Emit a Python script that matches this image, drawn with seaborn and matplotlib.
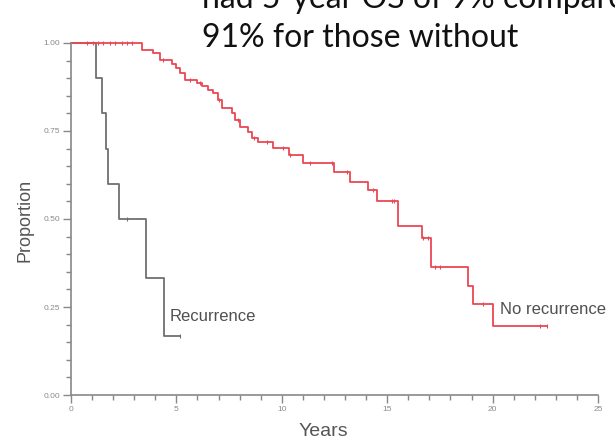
import numpy as np
import pandas as pd
import matplotlib
matplotlib.use("Agg")
import matplotlib.pyplot as plt
import seaborn as sns
from matplotlib.ticker import MultipleLocator, FormatStrFormatter

# ---------------- data ----------------
rec_times = [0.0, 1.17, 1.49, 1.66, 1.77, 2.28, 3.54, 4.43]
rec_surv = [1.0, 0.90, 0.80, 0.70, 0.60, 0.50, 0.333, 0.167]
rec_end = 5.17
rec_censor = [2.64, 5.17]

norec_times = [0.0, 3.37, 3.89, 4.22, 4.79, 4.98, 5.17, 5.41, 5.98, 6.21, 6.50,
               6.74, 6.97, 7.16, 7.62, 7.78, 8.02, 8.41, 8.57, 8.89, 9.60,
               10.34, 11.02, 12.48, 13.24, 14.09, 14.50, 15.51, 16.64, 17.08,
               18.85, 19.08, 20.03]
norec_surv = [1.0, 0.981, 0.972, 0.953, 0.940, 0.929, 0.915, 0.896, 0.886, 0.877,
              0.867, 0.858, 0.839, 0.815, 0.800, 0.781, 0.762, 0.748, 0.729,
              0.720, 0.701, 0.682, 0.660, 0.634, 0.606, 0.582, 0.552, 0.479,
              0.447, 0.364, 0.311, 0.259, 0.196]
norec_end = 22.57
norec_censor = [0.74, 1.04, 1.28, 1.52, 1.85, 2.09, 2.42, 2.66, 2.89, 4.36,
                5.65, 6.12, 7.00, 7.90, 8.70, 9.30, 10.07, 10.39, 11.34, 12.37,
                13.08, 14.33, 15.21, 15.32, 16.71, 16.94, 17.27, 17.50, 19.56,
                22.25, 22.57]

labels = ["Recurrence", "No recurrence"]
x_label = "Years"
y_label = "Proportion"
headline_1 = "had 5-year OS of 9% compared to those"
headline_2 = "91% for those without"

RED = "#ea4654"
GRAY = "#6f6f6f"

# ---------------- style ----------------
sns.set_style("ticks")
plt.rcParams["font.family"] = ["Liberation Sans", "DejaVu Sans"]

fig = plt.figure(figsize=(6.15, 4.41), dpi=100)
ax = fig.add_axes([71 / 615, 46 / 441, 527 / 615, 352 / 441])


def step_frame(times, surv, end):
    return pd.DataFrame({"t": list(times) + [end], "s": list(surv) + [surv[-1]]})


def censor_frame(times, surv, cens):
    idx = np.searchsorted(np.asarray(times), np.asarray(cens), side="right") - 1
    return pd.DataFrame({"t": cens, "s": np.asarray(surv)[idx]})


for times, surv, end, cens, col in [
    (rec_times, rec_surv, rec_end, rec_censor, GRAY),
    (norec_times, norec_surv, norec_end, norec_censor, RED),
]:
    df = step_frame(times, surv, end)
    sns.lineplot(data=df, x="t", y="s", drawstyle="steps-post", estimator=None,
                 sort=False, color=col, lw=1.3, ax=ax, clip_on=False)
    cf = censor_frame(times, surv, cens)
    sns.scatterplot(data=cf, x="t", y="s", marker="|", s=12, color=col,
                    linewidth=0.8, ax=ax, clip_on=False, zorder=3)

ax.set_xlim(0, 25)
ax.set_ylim(0, 1)
ax.xaxis.set_major_locator(MultipleLocator(5))
ax.xaxis.set_minor_locator(MultipleLocator(1))
ax.yaxis.set_major_locator(MultipleLocator(0.25))
ax.yaxis.set_minor_locator(MultipleLocator(0.05))
ax.yaxis.set_major_formatter(FormatStrFormatter("%.2f"))
ax.xaxis.set_major_formatter(FormatStrFormatter("%d"))
ax.tick_params(which="major", length=6, width=1.0, color="#888888",
               labelsize=6, labelcolor="#8a8a8a", pad=2)
ax.tick_params(which="minor", length=3.5, width=1.0, color="#888888")
sns.despine(ax=ax)
for sp in ["left", "bottom"]:
    ax.spines[sp].set_color("#888888")
    ax.spines[sp].set_linewidth(1.2)

ax.set_xlabel("")
ax.set_ylabel("")
fig.text(323 / 615, 1 - 432 / 441, x_label, fontsize=14, color="#555555",
         ha="center", va="center")
fig.text(25 / 615, 1 - 220 / 441, y_label, fontsize=13, color="#555555",
         ha="center", va="center", rotation=90)

ax.text(4.70, 0.224, labels[0], fontsize=12, color="#505050", va="center", ha="left")
ax.text(20.35, 0.244, labels[1], fontsize=12, color="#505050", va="center", ha="left",
        clip_on=False)

fig.text(202 / 615, 1 - 8 / 441, headline_1, fontsize=23, family=["Lato", "DejaVu Sans"],
         color="#111111", ha="left", va="baseline")
fig.text(202 / 615, 1 - 47 / 441, headline_2, fontsize=23, family=["Lato", "DejaVu Sans"],
         color="#111111", ha="left", va="baseline")

fig.savefig("out.png", dpi=100)
